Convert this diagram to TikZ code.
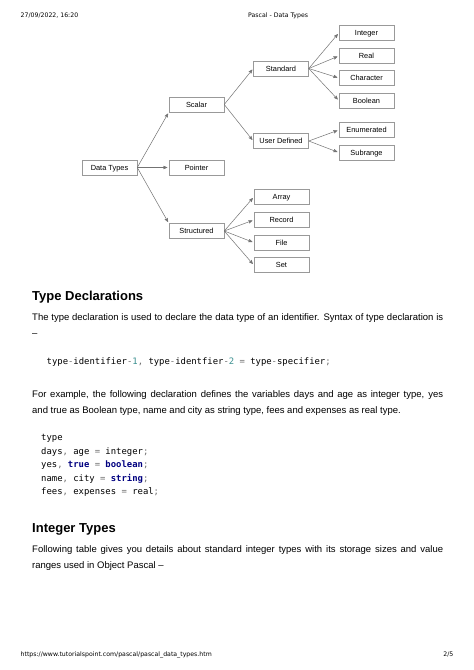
\documentclass[tikz,border=0pt]{standalone}
\usepackage{fontspec}
\usepackage{xcolor}
\usetikzlibrary{arrows,positioning}
\newfontfamily\bodyfont{Liberation Sans}
\newfontfamily\codefont{DejaVu Sans Mono}
\newfontfamily\pagefont{DejaVu Sans}
\definecolor{codenumcol}{RGB}{60,145,145}
\definecolor{codekwcol}{RGB}{0,0,128}
\definecolor{codepuncol}{RGB}{110,110,110}
\newcommand{\codenum}[1]{\textcolor{codenumcol}{#1}}
\newcommand{\codekw}[1]{\textcolor{codekwcol}{\bfseries #1}}
\newcommand{\codepun}[1]{\textcolor{codepuncol}{#1}}
\newcommand{\fullline}[1]{\hbox to 411pt{#1}}
\begin{document}
\begin{tikzpicture}
  [x=1pt,y=-1pt,on grid,>=stealth',
  box/.style={draw=black!40,fill=white,line width=0.5pt,minimum width=55pt,
    minimum height=15pt,inner sep=0pt,text height=5.3pt,text depth=0pt,
    font=\bodyfont\fontsize{7.4}{9}\selectfont},
  link/.style={->,draw=black!55,line width=0.5pt,shorten >=1.5pt},
  pagetext/.style={anchor=base west,inner sep=0pt,font=\pagefont\fontsize{6.2}{8}\selectfont},
  heading/.style={anchor=base west,inner sep=0pt,font=\bodyfont\bfseries\fontsize{13}{16}\selectfont},
  para/.style={anchor=base west,inner sep=0pt,font=\bodyfont\fontsize{9.5}{16}\selectfont},
  code/.style={anchor=base west,inner sep=0pt,font=\codefont\fontsize{8.9}{13}\selectfont}]
  \fill [white] (0,0) rectangle (474,670);
  \useasboundingbox (0,0) rectangle (474,670);
  % page header and footer
  \node [pagetext] (date) at (20.5,17) {27/09/2022, 16:20};
  \node [pagetext] (title) at (248,17) {Pascal - Data Types};
  \node [pagetext] (url) at (20.5,656.5) {https://www.tutorialspoint.com/pascal/pascal\_data\_types.htm};
  \node [pagetext,anchor=base east] (page) at (453.5,656.5) {2/5};
  % data types tree
  \node [box] (types) at (109.5,167.5) {Data Types};
  \node [box] (scalar) [above right=63pt and 87pt of types] {Scalar};
  \node [box] (pointer) [right=87pt of types] {Pointer};
  \node [box] (structured) [below right=63.5pt and 87pt of types] {Structured};
  \node [box] (standard) [above right=36pt and 84.5pt of scalar] {Standard};
  \node [box] (userdef) [below right=36.5pt and 84.5pt of scalar] {User Defined};
  \node [box] (integer) [above right=35.5pt and 85.5pt of standard] {Integer};
  \node [box] (real) [above right=12.5pt and 85.5pt of standard] {Real};
  \node [box] (character) [below right=9.5pt and 85.5pt of standard] {Character};
  \node [box] (boolean) [below right=32pt and 85.5pt of standard] {Boolean};
  \node [box] (enumerated) [above right=11pt and 85.5pt of userdef] {Enumerated};
  \node [box] (subrange) [below right=11.5pt and 85.5pt of userdef] {Subrange};
  \node [box] (array) [above right=34pt and 85pt of structured] {Array};
  \node [box] (record) [above right=11pt and 85pt of structured] {Record};
  \node [box] (file) [below right=11.5pt and 85pt of structured] {File};
  \node [box] (set) [below right=34pt and 85pt of structured] {Set};
  \path (types.east) edge [link] (scalar.south west) edge [link] (pointer.west)
    edge [link] (structured.north west);
  \path (scalar.east) edge [link] (standard.west) edge [link] (userdef.west);
  \path (standard.east) edge [link] (integer.west) edge [link] (real.west)
    edge [link] (character.west) edge [link] (boolean.west);
  \path (userdef.east) edge [link] (enumerated.west) edge [link] (subrange.west);
  \path (structured.east) edge [link] (array.west) edge [link] (record.west)
    edge [link] (file.west) edge [link] (set.west);
  % type declarations
  \node [heading] (head1) at (32,300) {Type Declarations};
  \node [para] (p1a) at (32,320) {\fullline{The type declaration is used to declare the data type of an identifier. Syntax of type declaration is}};
  \node [para] (p1b) at (32,336) {–};
  \node [code] (c1) at (46.5,364) {type\codepun{-}identifier\codepun{-}\codenum{1}\codepun{,} type\codepun{-}identfier\codepun{-}\codenum{2} \codepun{=} type\codepun{-}specifier\codepun{;}};
  \node [para] (p2a) at (32,397.5) {\fullline{For example, the following declaration defines the variables days and age as integer type, yes}};
  \node [para] (p2b) at (32,413.5) {and true as Boolean type, name and city as string type, fees and expenses as real type.};
  \node [code] (c2a) at (41,440.7) {type};
  \node [code] (c2b) at (41,454.2) {days\codepun{,} age \codepun{=} integer\codepun{;}};
  \node [code] (c2c) at (41,467.7) {yes\codepun{,} \codekw{true} \codepun{=} \codekw{boolean}\codepun{;}};
  \node [code] (c2d) at (41,481.2) {name\codepun{,} city \codepun{=} \codekw{string}\codepun{;}};
  \node [code] (c2e) at (41,494.7) {fees\codepun{,} expenses \codepun{=} real\codepun{;}};
  % integer types
  \node [heading] (head2) at (32,532) {Integer Types};
  \node [para] (p3a) at (32,552.5) {\fullline{Following table gives you details about standard integer types with its storage sizes and value}};
  \node [para] (p3b) at (32,568.5) {ranges used in Object Pascal –};
\end{tikzpicture}
\end{document}
